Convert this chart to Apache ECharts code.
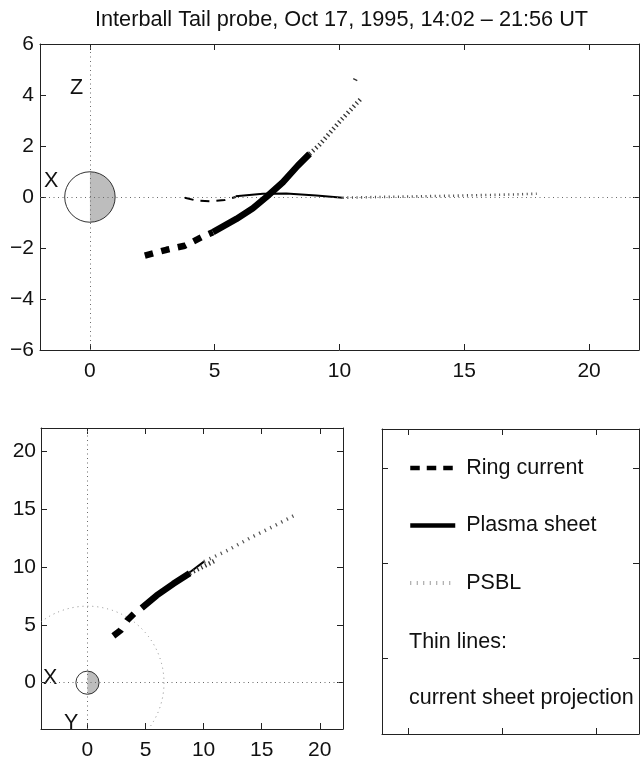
<!DOCTYPE html>
<html><head><meta charset="utf-8">
<script src="https://cdn.jsdelivr.net/npm/echarts@6/dist/echarts.min.js"></script>
<style>html,body{margin:0;padding:0;background:#fff}#c{width:643px;height:761px}</style>
</head><body><div id="c"></div>
<script>
const TITLE = 'Interball Tail probe, Oct 17, 1995, 14:02 – 21:56 UT';
const FONT = "'Liberation Sans', Arial, Helvetica, sans-serif";

// tick values
const xzXTicks = [0, 5, 10, 15, 20];
const xzZTicks = [-6, -4, -2, 0, 2, 4, 6];
const xyXTicks = [0, 5, 10, 15, 20];
const xyYTicks = [0, 5, 10, 15, 20];
const boxXTicks = [0.101, 0.467, 0.833];
const boxYTicks = [0.248, 0.560, 0.872];

// Earth (center x, center y, radius) and geosynchronous orbit
const earth = [[0, 0, 1]];
const geoOrbit = [[0, 0, 6.6]];

// X-Z projection (top panel): spacecraft track (thick)
const xzRing = [[2.2, -2.30], [3.07, -2.07], [3.8, -1.91], [4.47, -1.58], [4.93, -1.38]];
const xzPlasma = [[4.93, -1.38], [5.87, -0.86], [6.53, -0.44], [7.07, 0.0], [7.73, 0.58], [8.33, 1.23], [8.8, 1.69]];
const xzPsbl = [[8.8, 1.69], [9.2, 2.05], [10.0, 2.95], [10.9, 3.9], null, [10.62, 4.58], [10.65, 4.64]];
// X-Z current sheet projection (thin)
const xzRingThin = [[3.8, -0.03], [4.27, -0.14], [4.8, -0.17], [5.4, -0.12], [5.84, 0.0]];
const xzPlasmaThin = [[5.84, 0.03], [6.93, 0.13], [7.87, 0.14], [9.07, 0.06], [10.13, -0.03]];
const xzPsblThin = [[10.13, -0.03], [11.6, 0.0], [13.5, 0.03], [15.5, 0.07], [17.0, 0.10], [17.9, 0.13]];

// X-Y projection (bottom panel)
const xyRing = [[2.23, 4.04], [2.86, 4.53], [3.47, 5.44], [4.1, 6.05], [4.67, 6.45]];
const xyPlasma = [[4.67, 6.45], [5.96, 7.54], [7.39, 8.54], [8.8, 9.45]];
const xyPsbl = [[8.8, 9.45], [9.8, 9.95], [10.9, 10.5]];
const xyPlasmaThin = [[8.5, 9.3], [10.03, 10.46]];
const xyPsblThin = [[10.03, 10.46], [12.0, 11.4], [14.0, 12.5], [16.0, 13.5], [18.0, 14.55]];

const chart = echarts.init(document.getElementById('c'), null, {renderer: 'canvas'});

const minus = v => String(v).replace('-', '\u2212');
const AX = '#222';

function xAxisPair(grid, min, max, ticks, showLabels) {
  const base = {
    type: 'value', gridIndex: grid, min: min, max: max,
    axisLine: {show: true, onZero: false, lineStyle: {color: AX, width: 1}},
    splitLine: {show: false},
    axisTick: {show: true, inside: true, length: 6, customValues: ticks, lineStyle: {color: AX}},
  };
  return [
    Object.assign({}, base, {position: 'bottom',
      axisLabel: showLabels ? {show: true, customValues: ticks, margin: 11, fontSize: 21, color: '#111', fontFamily: FONT, formatter: minus} : {show: false}}),
    Object.assign({}, base, {position: 'top', axisLabel: {show: false}})
  ];
}
function yAxisPair(grid, min, max, ticks, showLabels, margin) {
  const base = {
    type: 'value', gridIndex: grid, min: min, max: max,
    axisLine: {show: true, onZero: false, lineStyle: {color: AX, width: 1}},
    splitLine: {show: false},
    axisTick: {show: true, inside: true, length: 6, customValues: ticks, lineStyle: {color: AX}},
  };
  return [
    Object.assign({}, base, {position: 'left',
      axisLabel: showLabels ? {show: true, customValues: ticks, margin: margin, fontSize: 21, color: '#111', fontFamily: FONT, formatter: minus} : {show: false}}),
    Object.assign({}, base, {position: 'right', axisLabel: {show: false}})
  ];
}

const xAxes = [].concat(
  xAxisPair(0, -2, 22, xzXTicks, true),
  xAxisPair(1, -4, 22, xyXTicks, true),
  xAxisPair(2, 0, 1, boxXTicks, false)
);
const yAxes = [].concat(
  yAxisPair(0, -6, 6, xzZTicks, true, 6),
  yAxisPair(1, -4, 22, xyYTicks, true, 5),
  yAxisPair(2, 0, 1, boxYTicks, false, 5)
);

function earthItem(params, api) {
  const c = api.coord([api.value(0), api.value(1)]);
  const s = api.size([api.value(2), api.value(2)]);
  const r = (s[0] + s[1]) / 2;
  return {
    type: 'group', children: [
      {type: 'circle', shape: {cx: c[0], cy: c[1], r: r}, style: {fill: '#fff'}},
      {type: 'sector', shape: {cx: c[0], cy: c[1], r0: 0, r: r, startAngle: -Math.PI / 2, endAngle: Math.PI / 2, clockwise: true}, style: {fill: '#bdbdbd'}},
      {type: 'circle', shape: {cx: c[0], cy: c[1], r: r}, style: {fill: null, stroke: '#333', lineWidth: 1}}
    ]
  };
}
function orbitItem(params, api) {
  const c = api.coord([api.value(0), api.value(1)]);
  const s = api.size([api.value(2), api.value(2)]);
  const r = (s[0] + s[1]) / 2;
  return {type: 'arc', shape: {cx: c[0], cy: c[1], r: r, startAngle: 0, endAngle: Math.PI * 2},
    style: {fill: null, stroke: '#8a8a8a', lineWidth: 1, lineDash: [1, 4]}};
}

const axisMark = {
  silent: true, symbol: ['none', 'none'], label: {show: false},
  lineStyle: {color: '#6a6a6a', width: 1, type: [1, 3.5]},
  emphasis: {disabled: true},
  data: [{xAxis: 0}, {yAxis: 0}]
};

function line(name, data, xi, yi, style, z) {
  return {
    type: 'line', name: name, data: data, xAxisIndex: xi, yAxisIndex: yi,
    symbol: 'none', smooth: false, connectNulls: false, silent: true, z: z || 3,
    lineStyle: Object.assign({cap: 'butt', join: 'round'}, style),
    emphasis: {disabled: true}, animation: false
  };
}

const THICK = 6.5, THIN = 2;
const series = [
  // top panel
  {type: 'custom', name: 'Earth', xAxisIndex: 0, yAxisIndex: 0, data: earth, renderItem: earthItem, silent: true, z: 1, animation: false},
  {type: 'line', name: 'axes-xz', xAxisIndex: 0, yAxisIndex: 0, data: [], markLine: axisMark, z: 2, animation: false},
  line('Ring current', xzRing, 0, 0, {color: '#000', width: THICK, type: [8.5, 8.5]}, 5),
  line('Plasma sheet', xzPlasma, 0, 0, {color: '#000', width: THICK}, 5),
  line('PSBL', xzPsbl, 0, 0, {color: '#333', width: 4.5, type: [1.3, 3]}, 5),
  line('Ring current thin', xzRingThin, 0, 0, {color: '#000', width: THIN, type: [9, 7]}, 4),
  line('Plasma sheet thin', xzPlasmaThin, 0, 0, {color: '#000', width: THIN}, 4),
  line('PSBL thin', xzPsblThin, 0, 0, {color: '#444', width: 2.6, type: [1, 3.6]}, 4),
  // bottom panel
  {type: 'custom', name: 'Earth2', xAxisIndex: 2, yAxisIndex: 2, data: earth, renderItem: earthItem, silent: true, z: 1, animation: false},
  {type: 'custom', name: 'Orbit', xAxisIndex: 2, yAxisIndex: 2, data: geoOrbit, renderItem: orbitItem, silent: true, clip: true, z: 2, animation: false},
  {type: 'line', name: 'axes-xy', xAxisIndex: 2, yAxisIndex: 2, data: [], markLine: axisMark, z: 2, animation: false},
  line('Ring current', xyRing, 2, 2, {color: '#000', width: THICK, type: [10, 10.5]}, 5),
  line('Plasma sheet', xyPlasma, 2, 2, {color: '#000', width: THICK}, 5),
  line('PSBL', xyPsbl, 2, 2, {color: '#333', width: 4.5, type: [1.3, 3]}, 5),
  line('Plasma sheet thin', xyPlasmaThin, 2, 2, {color: '#000', width: THIN}, 4),
  line('PSBL thin', xyPsblThin, 2, 2, {color: '#555', width: 3.5, type: [1.2, 5]}, 4),
  // legend box axes
  {type: 'line', name: 'box', xAxisIndex: 4, yAxisIndex: 4, data: [], animation: false}
];

const hiddenSymbol = {color: 'rgba(0,0,0,0)', borderWidth: 0, opacity: 0};

const option = {
  animation: false,
  backgroundColor: '#fff',
  textStyle: {fontFamily: FONT},
  title: {text: TITLE, left: 95, top: 9, padding: 0,
    textStyle: {fontSize: 21.7, fontWeight: 'normal', color: '#111', fontFamily: FONT}},
  grid: [
    {left: 40, top: 44, width: 599, height: 306},
    {left: 41, top: 428, width: 302, height: 306},
    {left: 382, top: 429, width: 257, height: 305}
  ],
  xAxis: xAxes,
  yAxis: yAxes,
  legend: {
    orient: 'vertical', left: 408, top: 457, padding: 0, itemWidth: 45, itemHeight: 22, itemGap: 35.5,
    selectedMode: false,
    textStyle: {fontSize: 21.5, color: '#111', fontFamily: FONT, lineHeight: 22, padding: [0, 0, 0, 6]},
    data: [
      {name: 'Ring current', itemStyle: hiddenSymbol, lineStyle: {width: 4.5, type: [9.5, 7], color: '#000'}},
      {name: 'Plasma sheet', itemStyle: hiddenSymbol, lineStyle: {width: 4.5, color: '#000'}},
      {name: 'PSBL', itemStyle: hiddenSymbol, lineStyle: {width: 4, type: [1, 5.5], color: '#9a9a9a'}}
    ]
  },
  graphic: [
    {type: 'text', left: 409, top: 631, style: {text: 'Thin lines:', fill: '#111', font: '21.5px ' + FONT}},
    {type: 'text', left: 409, top: 687, style: {text: 'current sheet projection', fill: '#111', font: '21.5px ' + FONT}},
    {type: 'text', left: 70, top: 77, style: {text: 'Z', fill: '#111', font: '21.5px ' + FONT}},
    {type: 'text', left: 44, top: 170, style: {text: 'X', fill: '#111', font: '21.5px ' + FONT}},
    {type: 'text', left: 43, top: 667, style: {text: 'X', fill: '#111', font: '21.5px ' + FONT}},
    {type: 'text', left: 64, top: 712, style: {text: 'Y', fill: '#111', font: '21.5px ' + FONT}}
  ],
  series: series
};
chart.setOption(option);
</script>
</body></html>
